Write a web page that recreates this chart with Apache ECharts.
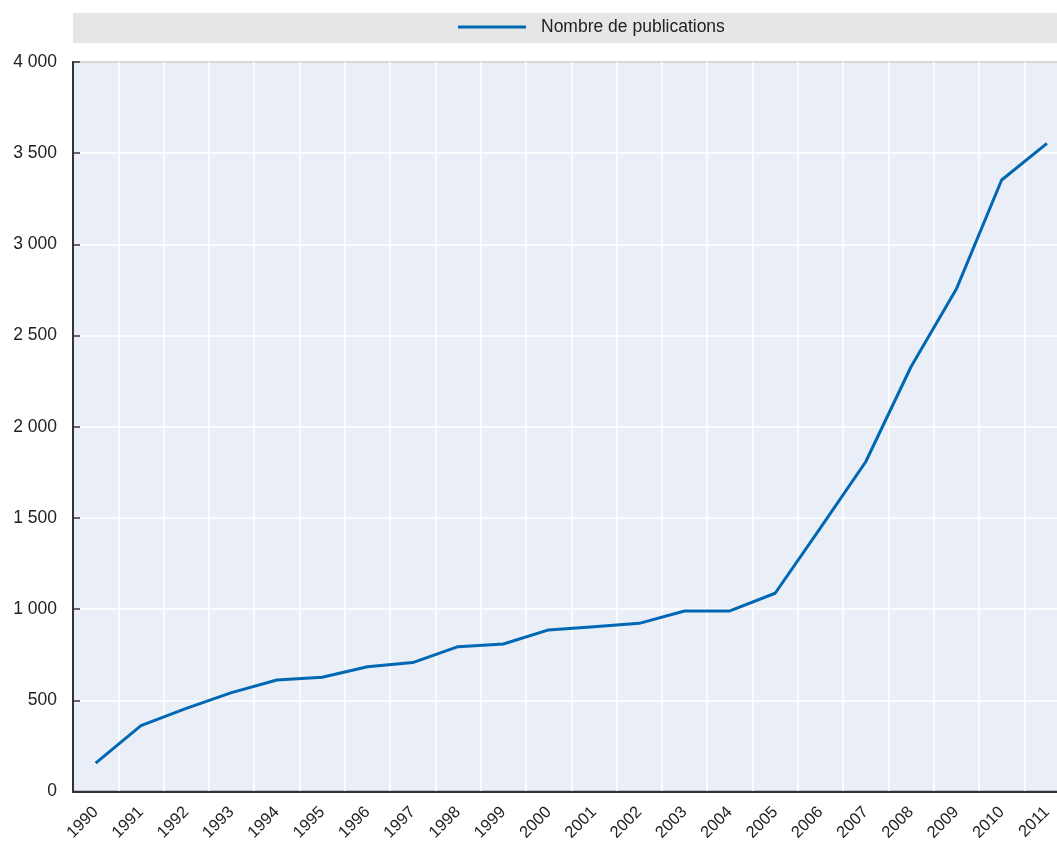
<!DOCTYPE html>
<html>
<head>
<meta charset="utf-8">
<script src="https://cdn.jsdelivr.net/npm/echarts@6/dist/echarts.min.js"></script>
<style>
html,body{margin:0;padding:0;background:#fff;overflow:hidden;}
#chart{width:1057px;height:844px;}
</style>
</head>
<body>
<div id="chart"></div>
<script>
const years = ['1990','1991','1992','1993','1994','1995','1996','1997','1998','1999','2000','2001','2002','2003','2004','2005','2006','2007','2008','2009','2010','2011'];
const publications = [156,361,456,542,611,626,684,707,794,809,886,904,922,990,990,1087,1445,1808,2329,2755,3353,3554];
const seriesName = 'Nombre de publications';
const yTicks = [0,500,1000,1500,2000,2500,3000,3500,4000];

const FONT = '"Liberation Sans", Arial, sans-serif';
const chart = echarts.init(document.getElementById('chart'), null, {renderer:'canvas'});
function fmt(v){return String(v).replace(/\B(?=(\d{3})+(?!\d))/g,' ');}
chart.setOption({
  animation:false,
  graphic:[{type:'rect',shape:{x:73,y:13,width:984,height:30},style:{fill:'#e5e6e8'},z:-1}],
  legend:{
    top:18, left:458, padding:0, data:[seriesName],
    icon:'rect', itemWidth:68, itemHeight:3, itemGap:10,
    textStyle:{fontFamily:FONT,fontSize:17.5,color:'#222',padding:[0,0,0,10]}
  },
  grid:{left:73, width:996.6, top:62, bottom:52.5, outerBoundsMode:'none', containLabel:false, show:true, backgroundColor:'#e9eef7', borderColor:'#333', borderWidth:1.5},
  xAxis:{
    type:'category', data:years, boundaryGap:true,
    axisLine:{lineStyle:{color:'#333',width:2}},
    axisTick:{inside:true,length:7,lineStyle:{color:'#333',width:1.5}},
    splitLine:{show:true,lineStyle:{color:'#ffffff',width:1.5}},
    axisLabel:{rotate:45,fontFamily:FONT,fontSize:16.5,color:'#222',margin:18,interval:0}
  },
  yAxis:{
    type:'value', min:0, max:4000, interval:500,
    axisLine:{show:true,lineStyle:{color:'#333',width:2}},
    axisTick:{show:true,inside:true,length:7,lineStyle:{color:'#333',width:1.5}},
    splitLine:{show:true,lineStyle:{color:'#ffffff',width:1.5}},
    axisLabel:{fontFamily:FONT,fontSize:17.5,color:'#222',margin:16,formatter:function(v){return yTicks.indexOf(v)>=0?fmt(v):'';}}
  },
  series:[{
    name:seriesName, type:'line', data:publications, symbol:'none',
    lineStyle:{color:'#0068b3',width:3}, itemStyle:{color:'#0068b3'}
  }]
});
</script>
</body>
</html>
